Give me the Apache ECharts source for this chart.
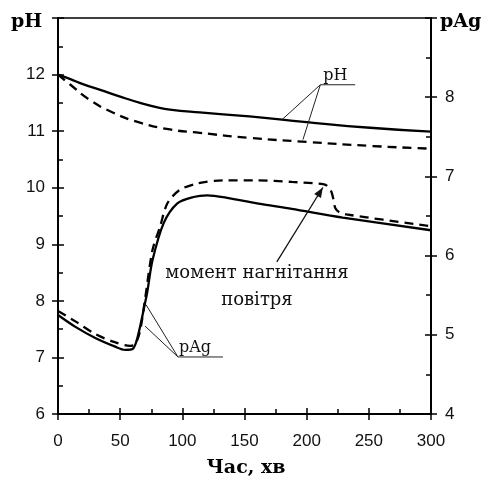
<!DOCTYPE html>
<html><head><meta charset="utf-8">
<script src="https://cdn.jsdelivr.net/npm/echarts@6/dist/echarts.min.js"></script>
<style>html,body{margin:0;padding:0;background:#fff}#c{width:486px;height:488px}</style>
</head><body><div id="c"></div>
<script>
// ---- data (time in minutes) ----
const tPhSolid = [0,10,20,34,50,66,80,90,114,154,200,251,300];
const pHSolid  = [12.0,11.92,11.83,11.73,11.61,11.50,11.42,11.38,11.33,11.26,11.16,11.06,10.99];

const tPhDashed = [0,10,25,44,66,90,114,154,200,250,300];
const pHDashed  = [12.0,11.82,11.56,11.33,11.15,11.03,10.97,10.88,10.81,10.74,10.69];

const tAgSolid = [0,14,30,46,54,60,64,70,72,76,85,96,109,120,136,160,188,229,300];
const pAgSolid = [5.25,5.10,4.96,4.85,4.81,4.82,4.97,5.40,5.56,5.94,6.41,6.66,6.74,6.76,6.73,6.66,6.59,6.48,6.32];

const tAgDashed = [0,15,30,45,58,62,66,70,76,82,88,98,112,133,160,188,214,218,220,222,223,226,232,300];
const pAgDashed = [5.30,5.16,5.01,4.91,4.86,4.88,5.05,5.45,6.07,6.36,6.66,6.83,6.91,6.95,6.95,6.93,6.90,6.86,6.80,6.68,6.60,6.55,6.52,6.37];

const xTickLabels = [0,50,100,150,200,250,300];
const pHTickLabels = [6,7,8,9,10,11,12];
const pAgTickLabels = [4,5,6,7,8];

const noteText = ['момент нагнітання', 'повітря'];

const pairs = (t, v) => t.map((x, i) => [x, v[i]]);
const labelFont = {fontFamily: 'Liberation Sans', fontSize: 17, color: '#111'};
const black = '#000';

function axisPair(pos, min, max, interval, labels, margin) {
  const base = {type: 'value', position: pos, min, max, interval, splitLine: {show: false}};
  const main = Object.assign({}, base, {
    axisLine: {show: true, onZero: false, lineStyle: {color: black, width: 2}},
    axisTick: {show: true, inside: false, length: 6, lineStyle: {color: black, width: 1.5}},
    minorTick: {show: false},
    axisLabel: Object.assign({show: true, margin,
      formatter: v => labels.indexOf(v) >= 0 ? String(v) : ''}, labelFont),
  });
  const inner = Object.assign({}, base, {
    axisLine: {show: false, onZero: false},
    axisTick: {show: true, inside: true, length: 6, lineStyle: {color: black, width: 1.5}},
    minorTick: {show: true, splitNumber: 2, length: 5, lineStyle: {color: black, width: 1.5}},
    axisLabel: {show: false},
  });
  return [main, inner];
}

const chart = echarts.init(document.getElementById('c'), null, {renderer: 'canvas'});
const xs = axisPair('bottom', 0, 300, 50, xTickLabels, 19);
const yPh = axisPair('left', 6, 13, 1, pHTickLabels, 13);
const yAg = axisPair('right', 4, 9, 1, pAgTickLabels, 14);

const lineSeries = (name, t, v, yIdx, dashed, sm) => ({
  name, type: 'line', xAxisIndex: 0, yAxisIndex: yIdx,
  data: pairs(t, v), showSymbol: false, smooth: sm,
  lineStyle: {color: black, width: 2.3, type: dashed ? [9, 6] : 'solid'},
  animation: false, z: 3
});

chart.setOption({
  animation: false,
  grid: {left: 58, right: 55, top: 18, bottom: 74, show: true, borderColor: black, borderWidth: 1.5},
  xAxis: xs,
  yAxis: [yPh[0], yAg[0], yPh[1], yAg[1]],
  series: [
    lineSeries('pH', tPhSolid, pHSolid, 0, false, 0.5),
    lineSeries('pH*', tPhDashed, pHDashed, 0, true, 0.5),
    lineSeries('pAg', tAgSolid, pAgSolid, 1, false, 0.3),
    lineSeries('pAg*', tAgDashed, pAgDashed, 1, true, 0.3),
  ]
});

// annotations positioned through the chart's own scales
const P = (t, v, ax) => chart.convertToPixel({xAxisIndex: 0, yAxisIndex: ax}, [t, v]);
const thin = {stroke: '#222', lineWidth: 1};
const g = [];
const seg = (a, b, st) => g.push({type: 'line', shape: {x1: a[0], y1: a[1], x2: b[0], y2: b[1]}, style: st || thin, z: 10});

// pH label
const phA = P(211, 11.82, 0), phE = P(239, 11.82, 0);
seg(phA, phE); seg(phA, P(180, 11.20, 0)); seg(phA, P(197, 10.85, 0));
g.push({type: 'text', x: phA[0] + 3, y: phA[1] - 1, style: {text: 'pH', font: '16px "DejaVu Serif"', fill: '#111', textAlign: 'left', textVerticalAlign: 'bottom'}, z: 10});

// pAg label
const agA = P(96.5, 4.72, 1), agE = P(132.7, 4.72, 1);
seg(agA, agE); seg(agA, P(70.8, 5.38, 1)); seg(agA, P(70, 5.11, 1));
g.push({type: 'text', x: agA[0] + 1, y: agA[1] - 1, style: {text: 'pAg', font: '16px "DejaVu Serif"', fill: '#111', textAlign: 'left', textVerticalAlign: 'bottom'}, z: 10});

// note + arrow
const n1 = P(160, 5.78, 1), n2 = P(160, 5.43, 1);
g.push({type: 'text', x: n1[0], y: n1[1], style: {text: noteText[0], font: '18px "DejaVu Serif"', fill: '#111', textAlign: 'center', textVerticalAlign: 'middle'}, z: 10});
g.push({type: 'text', x: n2[0], y: n2[1], style: {text: noteText[1], font: '18px "DejaVu Serif"', fill: '#111', textAlign: 'center', textVerticalAlign: 'middle'}, z: 10});
const a0 = P(176, 5.92, 1), a1 = P(213, 6.86, 1);
seg(a0, a1, {stroke: '#111', lineWidth: 1.3});
const dx = a1[0] - a0[0], dy = a1[1] - a0[1], L = Math.hypot(dx, dy);
const ux = dx / L, uy = dy / L, hl = 10, hw = 4;
const bx = a1[0] - ux * hl, by = a1[1] - uy * hl;
g.push({type: 'polygon', shape: {points: [a1, [bx - uy * hw, by + ux * hw], [bx + uy * hw, by - ux * hw]]}, style: {fill: '#111'}, z: 10});

// axis titles
g.push({type: 'text', left: 11, top: 13, style: {text: 'pH', font: 'bold 19px "DejaVu Serif"', fill: '#000'}, z: 10});
g.push({type: 'text', left: 440, top: 13, style: {text: 'pAg', font: 'bold 19px "DejaVu Serif"', fill: '#000'}, z: 10});
g.push({type: 'text', x: 246, y: 468, style: {text: 'Час, хв', font: 'bold 19px "DejaVu Serif"', fill: '#000', textAlign: 'center', textVerticalAlign: 'middle'}, z: 10});

chart.setOption({graphic: g});
</script>
</body></html>
